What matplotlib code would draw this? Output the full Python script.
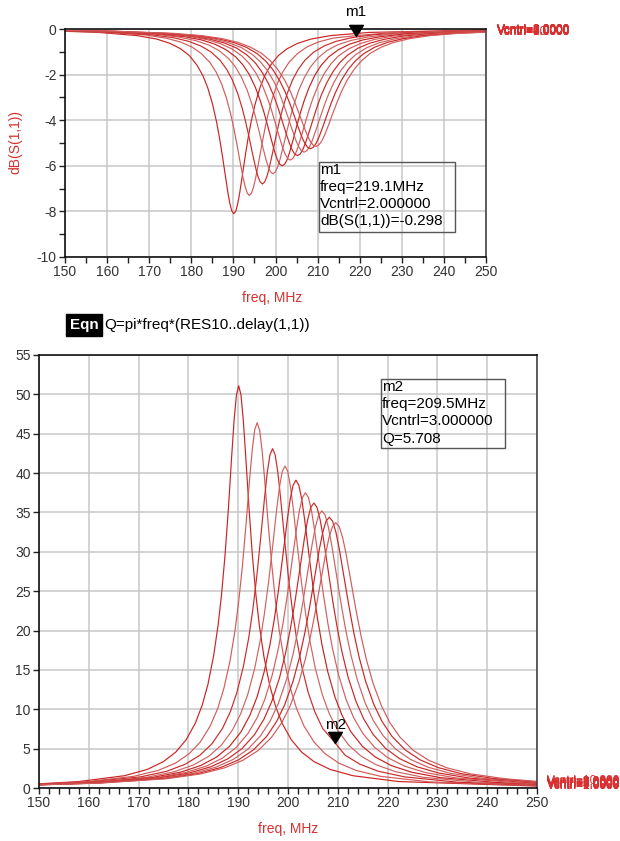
import matplotlib
matplotlib.use('Agg')
import matplotlib.pyplot as plt
from matplotlib.patches import Rectangle
from matplotlib.ticker import MultipleLocator

plt.rcParams['font.family'] = ['Liberation Sans', 'DejaVu Sans']
plt.rcParams['axes.unicode_minus'] = False

# ---------------- data ----------------
vcntrl = [1, 2, 3, 4, 5, 6, 7, 8, 9, 10]

freq_pts = [
    [150, 157.98, 167.16, 171.74, 174.96, 177.48, 179.55, 181.38, 182.76, 183.91, 185.05, 185.97, 186.66, 187.35, 188.04, 188.72, 189.18, 189.64, 190.1,
     190.56, 191.02, 191.48, 192.17, 192.85, 193.54, 194.23, 195.15, 196.30, 197.44, 198.82, 200.66, 202.72, 205.24, 208.46, 213.05, 222.22, 250],
    [150, 159.09, 169.01, 173.96, 177.44, 180.16, 182.39, 184.38, 185.87, 187.11, 188.35, 189.34, 190.08, 190.83, 191.57, 192.31, 192.81, 193.30, 193.8,
     194.30, 194.79, 195.29, 196.03, 196.78, 197.52, 198.26, 199.26, 200.50, 201.73, 203.22, 205.21, 207.44, 210.17, 213.64, 218.60, 228.51, 250],
    [150, 159.77, 170.38, 175.68, 179.39, 182.31, 184.70, 186.82, 188.41, 189.74, 191.06, 192.13, 192.92, 193.72, 194.51, 195.31, 195.84, 196.37, 196.9,
     197.43, 197.96, 198.49, 199.29, 200.08, 200.88, 201.68, 202.74, 204.06, 205.39, 206.98, 209.10, 211.49, 214.41, 218.12, 223.43, 234.04, 250],
    [150, 160.51, 171.62, 177.18, 181.07, 184.12, 186.62, 188.84, 190.51, 191.90, 193.29, 194.40, 195.23, 196.07, 196.90, 197.73, 198.29, 198.84, 199.4,
     199.96, 200.51, 201.07, 201.90, 202.73, 203.57, 204.40, 205.51, 206.90, 208.29, 209.96, 212.18, 214.68, 217.74, 221.62, 227.18, 238.29, 250],
    [150, 161.03, 172.62, 178.42, 182.47, 185.66, 188.27, 190.59, 192.33, 193.78, 195.22, 196.38, 197.25, 198.12, 198.99, 199.86, 200.44, 201.02, 201.6,
     202.18, 202.76, 203.34, 204.21, 205.08, 205.95, 206.82, 207.98, 209.43, 210.87, 212.61, 214.93, 217.54, 220.73, 224.78, 230.58, 242.17, 250],
    [150, 161.20, 173.29, 179.33, 183.56, 186.88, 189.60, 192.02, 193.83, 195.34, 196.85, 198.06, 198.97, 199.87, 200.78, 201.69, 202.29, 202.90, 203.5,
     204.10, 204.71, 205.31, 206.22, 207.13, 208.03, 208.94, 210.15, 211.66, 213.17, 214.98, 217.40, 220.12, 223.44, 227.67, 233.72, 245.80, 250],
    [150, 161.33, 173.87, 180.13, 184.52, 187.97, 190.79, 193.29, 195.17, 196.74, 198.31, 199.56, 200.50, 201.44, 202.38, 203.32, 203.95, 204.57, 205.2,
     205.83, 206.45, 207.08, 208.02, 208.96, 209.90, 210.84, 212.09, 213.66, 215.23, 217.11, 219.61, 222.43, 225.88, 230.27, 236.54, 249.07, 250],
    [150, 161.57, 174.50, 180.96, 185.48, 189.03, 191.94, 194.52, 196.46, 198.08, 199.69, 200.99, 201.95, 202.92, 203.89, 204.86, 205.51, 206.15, 206.8,
     207.45, 208.09, 208.74, 209.71, 210.68, 211.65, 212.62, 213.91, 215.52, 217.14, 219.08, 221.66, 224.57, 228.12, 232.64, 239.11, 250],
    [150, 161.93, 175.18, 181.80, 186.44, 190.08, 193.06, 195.71, 197.70, 199.36, 201.01, 202.34, 203.33, 204.33, 205.32, 206.31, 206.98, 207.64, 208.3,
     208.96, 209.63, 210.29, 211.28, 212.28, 213.27, 214.26, 215.59, 217.24, 218.90, 220.89, 223.54, 226.52, 230.16, 234.80, 241.43, 250],
    [150, 162.13, 175.69, 182.47, 187.22, 190.95, 194.00, 196.71, 198.75, 200.44, 202.14, 203.50, 204.51, 205.53, 206.55, 207.57, 208.24, 208.92, 209.6,
     210.28, 210.96, 211.64, 212.65, 213.67, 214.69, 215.70, 217.06, 218.76, 220.45, 222.49, 225.20, 228.25, 231.98, 236.73, 243.51, 250],
]

db_pts = [
    [-0.10, -0.15, -0.29, -0.44, -0.63, -0.87, -1.17, -1.59, -2.05, -2.58, -3.30, -4.05, -4.73, -5.52, -6.37, -7.21, -7.67, -7.99, -8.10,
     -7.99, -7.67, -7.21, -6.37, -5.52, -4.73, -4.05, -3.30, -2.58, -2.05, -1.59, -1.17, -0.87, -0.63, -0.44, -0.29, -0.15, -0.04],
    [-0.09, -0.14, -0.26, -0.40, -0.57, -0.79, -1.08, -1.46, -1.88, -2.37, -3.03, -3.72, -4.34, -5.05, -5.81, -6.53, -6.93, -7.20, -7.30,
     -7.20, -6.93, -6.53, -5.81, -5.05, -4.34, -3.72, -3.03, -2.37, -1.88, -1.46, -1.08, -0.79, -0.57, -0.40, -0.30, -0.14, -0.05],
    [-0.08, -0.13, -0.25, -0.38, -0.54, -0.75, -1.01, -1.37, -1.77, -2.23, -2.85, -3.50, -4.08, -4.74, -5.44, -6.11, -6.47, -6.71, -6.80,
     -6.71, -6.47, -6.11, -5.44, -4.74, -4.08, -3.50, -2.85, -2.23, -1.77, -1.37, -1.01, -0.75, -0.54, -0.38, -0.25, -0.13, -0.06],
    [-0.08, -0.12, -0.23, -0.36, -0.51, -0.70, -0.95, -1.29, -1.67, -2.11, -2.69, -3.30, -3.84, -4.46, -5.11, -5.72, -6.05, -6.27, -6.35,
     -6.27, -6.05, -5.72, -5.11, -4.46, -3.84, -3.30, -2.69, -2.11, -1.67, -1.29, -0.95, -0.70, -0.51, -0.36, -0.23, -0.12, -0.07],
    [-0.07, -0.12, -0.22, -0.34, -0.48, -0.67, -0.91, -1.23, -1.59, -2.00, -2.56, -3.14, -3.65, -4.23, -4.84, -5.42, -5.73, -5.93, -6.00,
     -5.93, -5.73, -5.42, -4.84, -4.23, -3.65, -3.14, -2.56, -2.00, -1.59, -1.23, -0.91, -0.67, -0.48, -0.34, -0.22, -0.12, -0.08],
    [-0.07, -0.11, -0.21, -0.32, -0.46, -0.64, -0.87, -1.18, -1.53, -1.93, -2.46, -3.02, -3.51, -4.07, -4.65, -5.20, -5.49, -5.68, -5.75,
     -5.68, -5.49, -5.20, -4.65, -4.07, -3.51, -3.02, -2.46, -1.93, -1.53, -1.18, -0.87, -0.64, -0.46, -0.32, -0.21, -0.11, -0.09],
    [-0.07, -0.11, -0.21, -0.31, -0.45, -0.62, -0.84, -1.15, -1.48, -1.87, -2.39, -2.92, -3.40, -3.94, -4.50, -5.02, -5.30, -5.49, -5.55,
     -5.49, -5.30, -5.02, -4.50, -3.94, -3.40, -2.92, -2.39, -1.87, -1.48, -1.15, -0.84, -0.62, -0.45, -0.31, -0.21, -0.11, -0.10],
    [-0.07, -0.10, -0.20, -0.31, -0.44, -0.61, -0.82, -1.12, -1.45, -1.82, -2.33, -2.85, -3.32, -3.84, -4.38, -4.89, -5.16, -5.34, -5.40,
     -5.34, -5.16, -4.89, -4.38, -3.84, -3.32, -2.85, -2.33, -1.82, -1.45, -1.12, -0.82, -0.61, -0.44, -0.31, -0.20, -0.11],
    [-0.07, -0.10, -0.20, -0.30, -0.43, -0.59, -0.80, -1.09, -1.41, -1.78, -2.27, -2.78, -3.23, -3.74, -4.27, -4.76, -5.02, -5.19, -5.25,
     -5.19, -5.02, -4.76, -4.27, -3.74, -3.23, -2.78, -2.27, -1.78, -1.41, -1.09, -0.80, -0.59, -0.43, -0.30, -0.20, -0.13],
    [-0.06, -0.10, -0.19, -0.29, -0.42, -0.58, -0.79, -1.07, -1.39, -1.75, -2.23, -2.73, -3.18, -3.67, -4.19, -4.67, -4.92, -5.09, -5.15,
     -5.09, -4.92, -4.67, -4.19, -3.67, -3.18, -2.73, -2.23, -1.75, -1.39, -1.07, -0.79, -0.58, -0.42, -0.29, -0.19, -0.14],
]

q_pts = [
    [0.53, 0.82, 1.56, 2.36, 3.34, 4.57, 6.13, 8.22, 10.50, 13.12, 16.74, 20.72, 24.61, 29.51, 35.57, 42.43, 46.74, 49.92, 51.1,
     49.92, 46.74, 42.43, 35.57, 29.51, 24.61, 20.72, 16.74, 13.12, 10.50, 8.22, 6.13, 4.57, 3.34, 2.36, 1.56, 0.82, 0.24],
    [0.49, 0.77, 1.48, 2.24, 3.17, 4.36, 5.85, 7.87, 10.08, 12.62, 16.12, 19.93, 23.58, 28.09, 33.49, 39.35, 42.91, 45.46, 46.4,
     45.46, 42.91, 39.35, 33.49, 28.09, 23.58, 19.93, 16.12, 12.62, 10.08, 7.87, 5.85, 4.36, 3.17, 2.24, 1.48, 0.77, 0.30],
    [0.47, 0.74, 1.41, 2.13, 3.03, 4.16, 5.60, 7.54, 9.67, 12.13, 15.49, 19.13, 22.59, 26.80, 31.74, 36.98, 40.09, 42.30, 43.1,
     42.30, 40.09, 36.98, 31.74, 26.80, 22.59, 19.13, 15.49, 12.13, 9.67, 7.54, 6.00, 4.16, 3.03, 2.13, 1.41, 0.74, 0.37],
    [0.45, 0.71, 1.36, 2.07, 2.94, 4.04, 5.45, 7.35, 9.44, 11.84, 15.13, 18.67, 22.00, 26.00, 30.62, 35.42, 38.23, 40.19, 40.9,
     40.19, 38.23, 35.42, 30.62, 26.00, 22.00, 18.67, 15.13, 11.84, 9.44, 7.35, 5.45, 4.04, 2.94, 2.07, 1.36, 0.71, 0.43],
    [0.43, 0.69, 1.32, 2.01, 2.85, 3.93, 5.30, 7.16, 9.21, 11.56, 14.77, 18.21, 21.43, 25.26, 29.63, 34.10, 36.67, 38.45, 39.1,
     38.45, 36.67, 34.10, 29.63, 25.26, 21.43, 18.21, 14.77, 11.56, 9.21, 7.16, 5.30, 3.93, 2.85, 2.01, 1.32, 0.69, 0.49],
    [0.42, 0.67, 1.28, 1.95, 2.77, 3.82, 5.15, 6.97, 8.96, 11.25, 14.38, 17.71, 20.82, 24.50, 28.64, 32.85, 35.25, 36.91, 37.5,
     36.91, 35.25, 32.85, 28.64, 24.50, 20.82, 17.71, 14.38, 11.25, 8.96, 6.97, 5.15, 3.82, 2.77, 1.95, 1.28, 0.67, 0.56],
    [0.42, 0.65, 1.25, 1.90, 2.70, 3.72, 5.02, 6.79, 8.74, 10.98, 14.03, 17.28, 20.29, 23.84, 27.82, 31.82, 34.08, 35.64, 36.2,
     35.64, 34.08, 31.82, 27.82, 23.84, 20.29, 17.28, 14.03, 10.98, 8.74, 6.79, 5.02, 3.72, 2.70, 1.90, 1.25, 0.65, 0.63],
    [0.41, 0.64, 1.22, 1.86, 2.64, 3.64, 4.92, 6.66, 8.56, 10.76, 13.76, 16.93, 19.87, 23.32, 27.17, 31.01, 33.18, 34.67, 35.2,
     34.67, 33.18, 31.01, 27.17, 23.32, 19.87, 16.93, 13.76, 10.76, 8.56, 6.66, 4.92, 3.64, 2.64, 1.86, 1.22, 0.70],
    [0.40, 0.63, 1.20, 1.82, 2.59, 3.58, 4.84, 6.55, 8.43, 10.60, 13.55, 16.67, 19.56, 22.93, 26.67, 30.38, 32.47, 33.89, 34.4,
     33.89, 32.47, 30.38, 26.67, 22.93, 19.56, 16.67, 13.55, 10.60, 8.43, 6.55, 4.84, 3.58, 2.59, 1.82, 1.20, 0.77],
    [0.39, 0.62, 1.18, 1.79, 2.55, 3.52, 4.76, 6.45, 8.30, 10.44, 13.34, 16.41, 19.25, 22.55, 26.20, 29.81, 31.83, 33.21, 33.7,
     33.21, 31.83, 29.81, 26.20, 22.55, 19.25, 16.41, 13.34, 10.44, 8.30, 6.45, 4.76, 3.52, 2.55, 1.79, 1.18, 0.84],
]

m1_freq, m1_vc, m1_db = 219.1, 2.0, -0.298
m2_freq, m2_vc, m2_q = 209.5, 3.0, 5.708

top_xticks = [150, 160, 170, 180, 190, 200, 210, 220, 230, 240, 250]
top_yticks = [0, -2, -4, -6, -8, -10]
bot_yticks = [0, 5, 10, 15, 20, 25, 30, 35, 40, 45, 50, 55]

# ---------------- figure ----------------
W, H = 620, 841
fig = plt.figure(figsize=(W / 100, H / 100), dpi=100)


def fx(x):
    return x / W


def fy(y):
    return 1 - y / H


ax1 = fig.add_axes([fx(65), fy(257), 421 / W, 228 / H])
ax2 = fig.add_axes([fx(39), fy(788), 498 / W, 433 / H])

line_colors = ['#cc2222', '#d35a5a', '#cc2a2a', '#d06262', '#c92020',
               '#d45c5c', '#cc2626', '#d06060', '#cc2424', '#d25a5a']
label_red = '#d83030'
tick_col = '#333333'


def style(ax, xminor, ymajor, yminor, ylim):
    ax.set_xlim(150, 250)
    ax.set_ylim(*ylim)
    ax.set_xticks(top_xticks)
    ax.xaxis.set_minor_locator(MultipleLocator(xminor))
    ax.yaxis.set_major_locator(MultipleLocator(ymajor))
    if yminor:
        ax.yaxis.set_minor_locator(MultipleLocator(yminor))
    ax.grid(True, which='major', color='#c8c8c8', lw=1.1)
    ax.set_axisbelow(True)
    ax.tick_params(which='both', direction='out', length=4, width=1,
                   color='#222222', labelsize=10, labelcolor=tick_col, pad=2)
    for side in ['left', 'bottom', 'top']:
        ax.spines[side].set_color('#111111')
        ax.spines[side].set_linewidth(1.2)
    ax.spines['right'].set_color('#444444')
    ax.spines['right'].set_linewidth(1.2)


style(ax1, 5, 2, 1, (-10, 0))
ax1.set_yticks(top_yticks)
style(ax2, 2, 5, None, (0, 55))
ax2.set_yticks(bot_yticks)

for i, (f, d) in enumerate(zip(freq_pts, db_pts)):
    ax1.plot(f, d, color=line_colors[i], lw=0.85)
for i, (f, q) in enumerate(zip(freq_pts, q_pts)):
    ax2.plot(f, q, color=line_colors[i], lw=0.85)


def vlabel(v):
    return 'Vcntrl=%.4f' % v if v < 10 else 'Vcntrl=%.3f' % v


for i, v in enumerate(vcntrl):
    ax1.annotate(vlabel(v), xy=(freq_pts[i][-1], db_pts[i][-1]), xytext=(8, 0),
                 textcoords='offset points', va='center', ha='left',
                 color=label_red, fontsize=8.5, annotation_clip=False)
    ax2.annotate(vlabel(v), xy=(freq_pts[i][-1], q_pts[i][-1]), xytext=(7, 0),
                 textcoords='offset points', va='center', ha='left',
                 color=label_red, fontsize=8.5, annotation_clip=False)

# markers (tip of triangle on the data point)
tri = [(-0.62, 1.0), (0.62, 1.0), (0.0, 0.0), (-0.62, 1.0)]
ax1.plot([m1_freq], [m1_db], marker=tri, markersize=16, color='black',
         clip_on=False, zorder=5)
ax1.annotate('m1', xy=(m1_freq, m1_db), xytext=(0, 12), textcoords='offset points',
             ha='center', va='bottom', fontsize=11, color='black', annotation_clip=False)
ax2.plot([m2_freq], [m2_q], marker=tri, markersize=16, color='black',
         clip_on=False, zorder=5)
ax2.annotate('m2', xy=(m2_freq, m2_q), xytext=(0, 8), textcoords='offset points',
             ha='center', va='bottom', fontsize=11, color='black', annotation_clip=False)

# axis labels
fig.text(fx(15), fy(142), 'dB(S(1,1))', rotation=90, ha='center', va='center',
         color=label_red, fontsize=10)
fig.text(fx(272), fy(298), 'freq, MHz', ha='center', va='center',
         color=label_red, fontsize=10)
fig.text(fx(288), fy(829), 'freq, MHz', ha='center', va='center',
         color=label_red, fontsize=10)

# equation
fig.text(fx(84), fy(325), 'Eqn', ha='center', va='center', color='white',
         fontsize=11, fontweight='bold',
         bbox=dict(facecolor='black', edgecolor='black', pad=2.5))
fig.text(fx(104), fy(325), 'Q=pi*freq*(RES10..delay(1,1))', ha='left', va='center',
         color='black', fontsize=11)

# marker readout boxes
fig.add_artist(Rectangle((fx(319), fy(232)), 136 / W, 70 / H, transform=fig.transFigure,
                         fill=False, edgecolor='#555555', lw=1))
m1_lines = ['m1', 'freq=%.1fMHz' % m1_freq, 'Vcntrl=%.6f' % m1_vc,
            'dB(S(1,1))=%.3f' % m1_db]
for t, yy in zip(m1_lines, [170, 187, 204, 221]):
    fig.text(fx(320), fy(yy), t, ha='left', va='center', fontsize=11, color='black')

fig.add_artist(Rectangle((fx(381), fy(448)), 124 / W, 69 / H, transform=fig.transFigure,
                         fill=False, edgecolor='#555555', lw=1))
m2_lines = ['m2', 'freq=%.1fMHz' % m2_freq, 'Vcntrl=%.6f' % m2_vc, 'Q=%.3f' % m2_q]
for t, yy in zip(m2_lines, [387, 404, 421, 439]):
    fig.text(fx(382), fy(yy), t, ha='left', va='center', fontsize=11, color='black')

fig.savefig('out.png', dpi=100)
